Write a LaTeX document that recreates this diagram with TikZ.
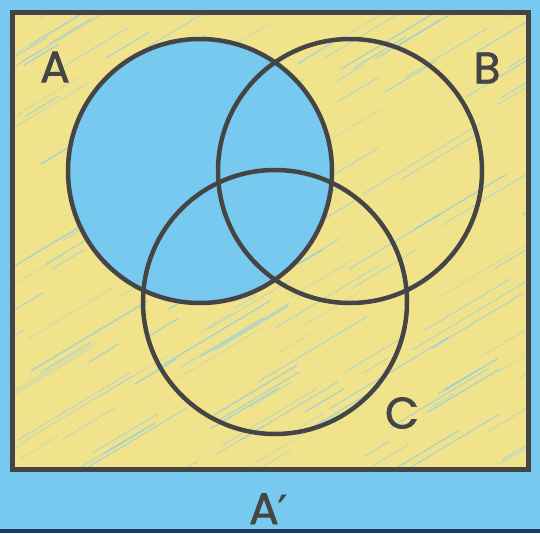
\documentclass[tikz,border=0pt]{standalone}
\usepackage{fontspec}
\setmainfont{Poppins}
\newfontfamily\labelfont{Poppins}[FakeBold=1.6]
\newfontfamily\primefont{DejaVu Sans}[FakeBold=1.6]
\usepackage{tikz}
\usetikzlibrary{positioning}
\definecolor{sky}{HTML}{78C9F0}
\definecolor{sand}{HTML}{F1E38C}
\definecolor{ink}{HTML}{454545}
\definecolor{navy}{HTML}{1D3B5E}
\definecolor{streak}{HTML}{82CBF0}
\tikzset{
  setcirc/.style={circle,draw=ink,line width=4.5pt,minimum size=264pt,inner sep=0pt},
  setlabel/.style={font=\fontsize{44}{44}\selectfont\labelfont,text=ink,inner sep=0pt}
}
\begin{document}
\begin{tikzpicture}[x=1pt,y=-1pt]
  \useasboundingbox (0,0) rectangle (540,533);
  \fill[sky] (0,0) rectangle (540,533);
  \fill[navy] (0,529) rectangle (540,533);
  \fill[sand] (12,12) rectangle (528,469);
  \begin{scope}
    \clip (12,12) rectangle (528,469);
    \pgfmathsetseed{11}
    \foreach \i in {1,...,170}{
      \pgfmathsetmacro{\sx}{random(-40,560)}
      \pgfmathsetmacro{\sy}{random(10,560)}
      \pgfmathsetmacro{\len}{random(20,120)}
      \pgfmathsetmacro{\op}{0.25+0.5*rnd}
      \draw[streak,line width=1.2pt,opacity=\op,line cap=round] (\sx,\sy) -- ++(\len,-0.6*\len);
    }
  \end{scope}
  \draw[ink,line width=5pt] (12,12) rectangle (528,469);
  \node[setcirc,fill=sky] (circA) at (200,171) {};
  \node[setcirc] (circB) at (350,171) {};
  \node[setcirc] (circC) at (275,302) {};
  \node[setlabel] (labA) at (55,67) {A};
  \node[setlabel] (labB) at (487,68) {B};
  \node[setlabel] (labC) at (402,413) {C};
  \node[setlabel,anchor=base] (labAc) at (268,524) {A\kern-1pt{\primefont\fontsize{40}{40}\selectfont ′}};
\end{tikzpicture}
\end{document}
